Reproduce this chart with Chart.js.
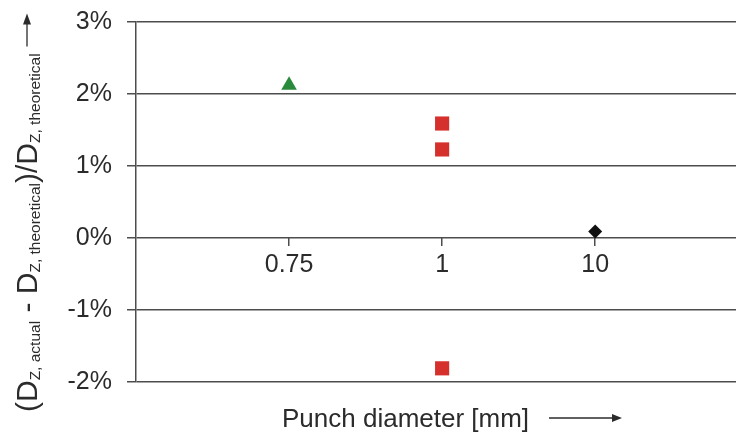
<!DOCTYPE html>
<html lang="en">

<head>
    <meta charset="UTF-8">
    <title>Punch diameter deviation</title>
    <script src="https://cdn.jsdelivr.net/npm/chart.js"></script>
    <style>
        body { margin: 0; background: #fff; }
        #wrap { width: 736px; height: 432px; }
    </style>
</head>

<body>
    <div id="wrap"><canvas id="chart"></canvas></div>

    <script>
        // categories on the x axis (punch diameter, mm)
        var xLabels = ['0.75', '1', '10'];
        // deviation in %, one array per marker type
        var triangleVals = [2.12];               // 0.75 mm
        var squareVals = [1.59, 1.23, -1.81];    // 1 mm
        var diamondVals = [0.09];                // 10 mm
        var yMin = -2, yMax = 3;

        var FONT = '"Liberation Sans", Arial, sans-serif';
        var INK = '#2b2b2b';
        var GRID = '#4d4d4d';

        function pts(catIndex, vals) {
            return vals.map(function (v) { return { x: catIndex + 1, y: v }; });
        }

        // no automatic label padding, the layout padding decides the plot box
        function noPad(scale) {
            scale.paddingLeft = 0;
            scale.paddingRight = 0;
            scale.paddingTop = 0;
            scale.paddingBottom = 0;
        }

        // axis titles with subscripts and arrows
        var titlesPlugin = {
            id: 'titles',
            afterDraw: function (chart) {
                var ctx = chart.ctx;
                ctx.save();
                ctx.fillStyle = INK;
                ctx.strokeStyle = INK;
                ctx.textBaseline = 'alphabetic';

                // x title
                ctx.font = '26px ' + FONT;
                ctx.textAlign = 'left';
                ctx.fillText('Punch diameter [mm]', 282, 427);
                ctx.lineWidth = 1.3;
                ctx.beginPath();
                ctx.moveTo(549, 418);
                ctx.lineTo(614, 418);
                ctx.stroke();
                ctx.beginPath();
                ctx.moveTo(622, 418);
                ctx.lineTo(612, 414);
                ctx.lineTo(612, 422);
                ctx.closePath();
                ctx.fill();

                // y title (rotated)
                ctx.translate(37, 412);
                ctx.rotate(-Math.PI / 2);
                var parts = [
                    ['(D', 0], ['Z, actual', 1], [' - D', 0], ['Z, theoretical', 1],
                    [')/D', 0], ['Z, theoretical', 1]
                ];
                var x = 0;
                parts.forEach(function (p) {
                    if (p[1]) {
                        ctx.font = '15.5px ' + FONT;
                        ctx.fillText(p[0], x, 3);
                    } else {
                        ctx.font = '30px ' + FONT;
                        ctx.fillText(p[0], x, 0);
                    }
                    x += ctx.measureText(p[0]).width;
                });
                ctx.lineWidth = 1.3;
                ctx.beginPath();
                ctx.moveTo(x + 7, -10);
                ctx.lineTo(x + 31, -10);
                ctx.stroke();
                ctx.beginPath();
                ctx.moveTo(x + 40, -10);
                ctx.lineTo(x + 29, -14);
                ctx.lineTo(x + 29, -6);
                ctx.closePath();
                ctx.fill();
                ctx.restore();
            }
        };

        new Chart(document.getElementById('chart'), {
            type: 'scatter',
            data: {
                datasets: [{
                    label: '0.75 mm',
                    data: pts(0, triangleVals),
                    pointStyle: 'triangle',
                    pointRadius: 9,
                    backgroundColor: '#2a8a3c',
                    borderWidth: 0
                }, {
                    label: '1 mm',
                    data: pts(1, squareVals),
                    pointStyle: 'rect',
                    pointRadius: 10,
                    backgroundColor: '#d6302c',
                    borderWidth: 0
                }, {
                    label: '10 mm',
                    data: pts(2, diamondVals),
                    pointStyle: 'rectRot',
                    pointRadius: 7,
                    backgroundColor: '#111111',
                    borderWidth: 0
                }]
            },
            options: {
                responsive: true,
                maintainAspectRatio: false,
                animation: false,
                layout: {
                    autoPadding: false,
                    padding: { top: 22, right: 0, bottom: 50, left: 0 }
                },
                plugins: {
                    legend: { display: false },
                    tooltip: { enabled: false }
                },
                scales: {
                    x: {
                        type: 'linear',
                        position: { y: 0 },
                        min: 0,
                        max: 3.92,
                        afterBuildTicks: function (scale) {
                            scale.ticks = xLabels.map(function (_, i) { return { value: i + 1 }; });
                        },
                        afterFit: noPad,
                        ticks: {
                            autoSkip: false,
                            maxRotation: 0,
                            padding: 4,
                            color: INK,
                            font: { family: FONT, size: 25 },
                            callback: function (v) { return xLabels[v - 1]; }
                        },
                        grid: {
                            drawOnChartArea: false,
                            drawTicks: true,
                            tickLength: 8,
                            color: GRID,
                            lineWidth: 1.5
                        },
                        border: { display: false }
                    },
                    y: {
                        min: yMin,
                        max: yMax,
                        afterFit: function (scale) {
                            scale.width = 136;
                            noPad(scale);
                        },
                        ticks: {
                            stepSize: 1,
                            padding: 15,
                            color: INK,
                            font: { family: FONT, size: 25 },
                            callback: function (v) { return v + '%'; }
                        },
                        grid: {
                            color: GRID,
                            lineWidth: 1.5,
                            tickLength: 9
                        },
                        border: { display: true, color: GRID, width: 1.5 }
                    }
                }
            },
            plugins: [titlesPlugin]
        });
    </script>
</body>

</html>
